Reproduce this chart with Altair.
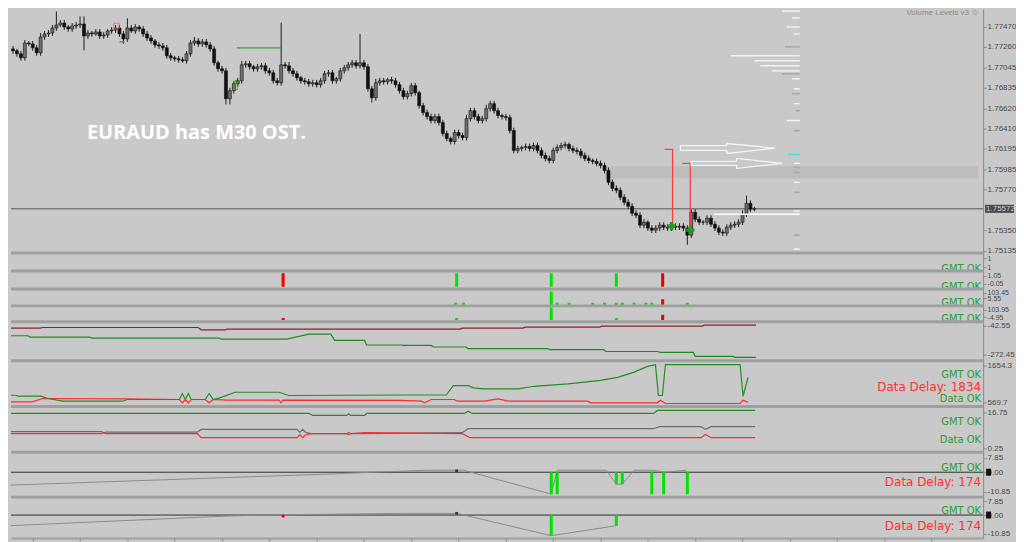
import altair as alt
import pandas as pd

BG = "#c9c9c9"
SEP = "#9f9f9f"
W = 976
BAR_DOMAIN = [1.75, 1.75 + W / 4.0]
GREEN_T = "#2e9e2e"
RED_T = "#ff3030"
BRIGHT_G = "#00e400"
BRIGHT_R = "#ee0000"

# ---------------- main price panel data ----------------
first_open = 1.77217
closes = [
    1.77237, 1.77217, 1.77186, 1.77144, 1.77299, 1.77289, 1.77248, 1.77196, 1.77362, 1.77393,
    1.77403, 1.77455, 1.77486, 1.77507, 1.77465, 1.77445, 1.77476, 1.77486, 1.77496, 1.77372,
    1.77403, 1.77393, 1.77414, 1.77372, 1.77382, 1.77424, 1.77434, 1.77455, 1.77393, 1.77341,
    1.77455, 1.77424, 1.77465, 1.77445, 1.77393, 1.77351, 1.77320, 1.77279, 1.77268, 1.77248,
    1.77165, 1.77144, 1.77134, 1.77123, 1.77113, 1.77186, 1.77299, 1.77320, 1.77289, 1.77310,
    1.77279, 1.77237, 1.77092, 1.77030, 1.77009, 1.76719, 1.76802, 1.76874, 1.76905, 1.77071,
    1.77082, 1.77051, 1.77030, 1.77051, 1.77061, 1.77009, 1.76988, 1.76905, 1.76885, 1.77071,
    1.77061, 1.77009, 1.76978, 1.76937, 1.76905, 1.76895, 1.76874, 1.76885, 1.76864, 1.76905,
    1.76978, 1.76988, 1.76905, 1.76926, 1.77009, 1.77040, 1.77071, 1.77092, 1.77061, 1.77092,
    1.77051, 1.76822, 1.76729, 1.76885, 1.76905, 1.76895, 1.76916, 1.76905, 1.76864, 1.76802,
    1.76740, 1.76771, 1.76854, 1.76781, 1.76646, 1.76574, 1.76532, 1.76491, 1.76532, 1.76470,
    1.76356, 1.76304, 1.76273, 1.76366, 1.76335, 1.76314, 1.76511, 1.76594, 1.76532, 1.76491,
    1.76511, 1.76615, 1.76667, 1.76594, 1.76543, 1.76532, 1.76522, 1.76387, 1.76180, 1.76200,
    1.76211, 1.76221, 1.76200, 1.76231, 1.76180, 1.76128, 1.76097, 1.76076, 1.76180, 1.76211,
    1.76231, 1.76242, 1.76200, 1.76180, 1.76169, 1.76128, 1.76097, 1.76076, 1.76065, 1.76045,
    1.76024, 1.75972, 1.75848, 1.75785, 1.75765, 1.75692, 1.75640, 1.75599, 1.75526, 1.75505,
    1.75402, 1.75433, 1.75371, 1.75350, 1.75371, 1.75402, 1.75381, 1.75371, 1.75391, 1.75381,
    1.75391, 1.75371, 1.75298, 1.75537, 1.75464, 1.75433, 1.75433, 1.75474, 1.75412, 1.75371,
    1.75329, 1.75319, 1.75381, 1.75402, 1.75412, 1.75433, 1.75516, 1.75630, 1.75568, 1.75572,
]
wick_up = [
    4, 3, 2, 3, 3, 2, 3, 3, 4, 3,
    3, 3, 14, 3, 3, 2, 3, 3, 8, 8,
    3, 2, 3, 3, 3, 2, 3, 3, 3, 3,
    10, 3, 3, 2, 3, 3, 3, 2, 3, 3,
    3, 3, 2, 3, 3, 3, 3, 4, 3, 3,
    3, 3, 3, 2, 3, 3, 3, 3, 3, 4,
    3, 3, 2, 3, 3, 3, 3, 3, 3, 44,
    3, 4, 3, 3, 2, 3, 3, 3, 3, 3,
    3, 3, 3, 2, 3, 3, 3, 3, 3, 30,
    3, 3, 3, 4, 3, 3, 2, 3, 3, 3,
    3, 3, 3, 3, 2, 3, 3, 3, 3, 3,
    3, 3, 2, 3, 3, 3, 4, 3, 3, 3,
    3, 4, 3, 3, 3, 2, 3, 3, 3, 3,
    2, 3, 3, 3, 3, 3, 3, 3, 3, 3,
    3, 3, 2, 3, 3, 3, 3, 3, 2, 3,
    3, 3, 3, 3, 3, 3, 3, 3, 3, 3,
    3, 3, 2, 3, 3, 3, 3, 3, 3, 3,
    3, 3, 3, 3, 3, 3, 2, 3, 3, 3,
    3, 3, 3, 3, 3, 3, 4, 8, 3, 2,
]
wick_dn = [
    18, 3, 3, 3, 3, 2, 3, 3, 3, 3,
    3, 3, 3, 2, 3, 3, 3, 3, 3, 15,
    3, 3, 2, 3, 3, 3, 3, 3, 3, 5,
    3, 2, 3, 3, 3, 3, 3, 3, 3, 3,
    3, 3, 3, 3, 2, 3, 3, 3, 3, 3,
    3, 3, 3, 3, 3, 6, 6, 3, 3, 3,
    3, 3, 3, 3, 3, 3, 3, 3, 3, 3,
    3, 3, 3, 3, 3, 3, 3, 3, 3, 3,
    3, 3, 3, 3, 3, 3, 3, 3, 3, 3,
    3, 3, 5, 3, 3, 3, 3, 3, 3, 3,
    3, 3, 3, 3, 3, 3, 3, 3, 3, 3,
    3, 3, 3, 3, 3, 3, 3, 3, 3, 3,
    3, 3, 3, 3, 3, 3, 3, 3, 3, 3,
    3, 3, 3, 3, 3, 3, 3, 3, 3, 3,
    3, 3, 3, 3, 3, 3, 3, 3, 3, 3,
    3, 3, 3, 3, 3, 3, 3, 3, 3, 3,
    3, 3, 3, 3, 3, 3, 3, 3, 3, 3,
    3, 3, 10, 3, 3, 3, 3, 3, 3, 3,
    3, 3, 3, 3, 3, 3, 3, 3, 3, 2,
]
PIP = 0.0001
main_domain = [1.75111, 1.77652]
main_ticks = [1.77470, 1.77260, 1.77045, 1.76835, 1.76620, 1.76410, 1.76195,
              1.75985, 1.75770, 1.75350, 1.75135]
last_price = 1.75572
band_bars = [151.0, BAR_DOMAIN[1]]
band_prices = [1.76014, 1.75889]

green_seg_x1 = [57.75, 28.0]
green_seg_x2 = [69.0, 29.25]
green_seg_p = [1.77248, 1.77310]

red_path_id = [1, 1, 1, 2, 2, 2]
red_path_bar = [166.25, 168.25, 168.25, 170.75, 172.75, 172.75]
red_path_p = [1.76190, 1.76190, 1.75381, 1.76045, 1.76045, 1.75350]

arrow_id = [1] * 8 + [2] * 8
arrow_bar = [170.25, 182, 182, 194.25, 182, 182, 170.25, 170.25,
             173, 184.5, 184.5, 196, 184.5, 184.5, 173, 173]
arrow_p = [1.76231, 1.76231, 1.76252, 1.76205, 1.76148, 1.76180, 1.76180, 1.76231,
           1.76065, 1.76065, 1.76097, 1.76045, 1.75993, 1.76024, 1.76024, 1.76065]

white_line_bars = [178.75, 200.5]
white_line_p = 1.75516

vol_p = [1.77631, 1.77559, 1.77465, 1.77393, 1.77258, 1.77165, 1.77113, 1.77061, 1.77009,
         1.76978, 1.76926, 1.76822, 1.76771, 1.76667, 1.76594, 1.76491, 1.76387, 1.76138,
         1.76045, 1.76003, 1.75951, 1.75848, 1.75744, 1.75547, 1.75298, 1.75153]
vol_left = [196, 198.5, 197.25, 199, 196.75, 183, 189, 190.5, 193.5, 196, 198.5, 199, 198.5,
            199, 199.5, 197.25, 199, 197.5, 199, 199, 199, 199, 199, 199, 199, 199]
vol_kind = ["w", "w", "w", "w", "g", "w", "w", "w", "w", "g", "w", "w", "g", "w", "g",
            "w", "g", "c", "w", "g", "g", "w", "g", "w", "g", "w"]
vol_right = 200.5
vol_colors = {"w": "#f2f2f2", "g": "#a8a8a8", "c": "#3fe0f0"}

cross_bar = [168.0, 172.75]
cross_p = [1.75391, 1.75350]
uparrow_bar = [57.5]
uparrow_p = [1.76854]
redbox_bar = [27.25]
redbox_p = [1.77476]
title_bar = [19.75]
title_p = [1.76356]
title_text = ["EURAUD has M30 OST."]

# ---------------- sub-panel data ----------------
p2_bar = [69.5, 113.5, 137.5, 154, 165.75]
p2_hi = [1, 1, 1, 1, 1]
p2_col = ["r", "g", "g", "g", "r"]

p3_bar = [113.25, 115.25, 137.5, 139, 142, 148, 151, 154, 155.5, 158.5, 161.5, 163, 165.75, 172]
p3_hi = [0.17, 0.17, 1.0, 0.17, 0.17, 0.17, 0.17, 0.17, 0.17, 0.17, 0.17, 0.17, 0.43, 0.17]
p3_col = ["g"] * 12 + ["r", "g"]

p4_bar = [69.5, 113.5, 137.5, 154, 165.75]
p4_hi = [0.17, 0.17, 1.0, 0.17, 0.43]
p4_col = ["r", "g", "g", "g", "r"]

p5_red_bar = [0, 9, 9.75, 48.75, 49.5, 55.5, 56, 114.5, 115, 130.25, 130.75, 149.5, 150,
              175.25, 175.75, 188.75]
p5_red_val = [-60.8, -60.8, -56, -56, -74.3, -74.3, -68.7, -68.7, -60.8, -60.8, -52.9, -52.9,
              -44.9, -44.9, -37, -37]
p5_grn_bar = [0, 6, 6.5, 21.5, 22, 54, 54.5, 71, 76.5, 82, 83, 90.5, 91, 99.75, 100, 107.25,
              107.75, 116, 116.5, 136.5, 137, 150.5, 151, 164, 164.75, 173, 173.5, 183, 183.5,
              188.75]
p5_grn_val = [-121.9, -121.9, -132.2, -132.2, -140.1, -140.1, -148, -148, -108.4, -108.4,
              -159.1, -159.1, -195.6, -195.6, -198.8, -198.8, -211.5, -211.5, -224.9, -224.9,
              -232.9, -232.9, -247.1, -247.1, -254.3, -254.3, -286, -286, -293.9, -293.9]

p6_grn_bar = [0, 3, 3.5, 9.25, 11, 14.75, 29.75, 31, 44, 44.75, 45.5, 46.25, 47, 50.5, 51.5,
              52.5, 54, 58, 69, 71.5, 99.75, 111, 112.75, 116.5, 117.75, 120.5, 129, 133,
              141.5, 149.75, 154, 158, 161.5, 163.5, 164.25, 165.25, 166, 184.75, 185.5, 186.75]
p6_grn_val = [783.8, 783.8, 754.5, 754.5, 687, 608, 608, 657.8, 657.8, 833.6, 657.8, 833.6,
              657.8, 657.8, 833.6, 657.8, 700, 871.7, 871.7, 775, 790, 790, 1068, 1068, 1000,
              971, 971, 1047, 1118, 1223, 1311, 1458, 1634, 1684, 775, 775, 1684, 1684, 754,
              1311]
p6_red_bar = [0, 7, 9.75, 30, 44, 44.75, 45.5, 46.25, 47, 50.5, 51.5, 52.5, 56, 69, 69.5, 70,
              99.75, 104.75, 105.5, 107.25, 113, 113.75, 120.5, 124, 126.5, 146.5, 147.25, 164,
              164.75, 166, 184.75, 185.5, 186.75]
p6_red_val = [590, 590, 687, 678, 657.8, 561, 657.8, 561, 657.8, 657.8, 561, 657.8, 640, 640,
              561, 640, 630, 608, 561, 657.8, 657.8, 608, 608, 678, 608, 608, 561, 561, 637,
              540, 540, 637, 578]

p7_red_bar = [0, 24.5, 25.5, 48.5, 49.5, 73.5, 74.25, 75, 75.75, 77, 86, 86.5, 87, 90.5, 115,
              117, 175, 176, 177.5, 188.5]
p7_red_val = [7.91, 7.91, 6.99, 6.99, 5.16, 5.16, 6.5, 5.16, 6.5, 6.99, 6.99, 6.6, 6.99, 7.45,
              7.0, 5.16, 5.16, 6.67, 5.16, 5.16]
p7_gray_bar = [0, 24.5, 25.5, 48.5, 49.5, 73.5, 74.25, 75, 75.75, 77, 86, 86.5, 87, 90.5, 115,
               116.5, 163, 164.5, 175, 176, 177.5, 188.5]
p7_gray_val = [6.99, 6.99, 7.7, 7.7, 8.96, 8.96, 7.6, 8.96, 7.6, 6.99, 6.99, 7.6, 6.99, 6.99,
               7.45, 9.28, 9.28, 10.2, 10.2, 8.96, 10.2, 10.2]
p7_grn_bar = [0, 76.5, 77.5, 86, 86.5, 87, 90.5, 91, 115.5, 116.5, 117.5, 163, 164, 188.5]
p7_grn_val = [16.29, 16.29, 15.38, 15.38, 16.1, 15.38, 15.38, 16.29, 16.29, 17.3, 16.29, 16.29,
              17.67, 17.67]

p8_gray_bar = [0, 82, 92, 106, 115.25, 137.5, 139, 151.5, 154, 155.5, 158.5, 163, 166.5, 171.75]
p8_gray_val = [-7.15, -0.94, 0, 1.1, 1.1, -12.1, 1.1, 1.1, -6.6, -6.6, 1.1, 1.1, 0, 1.1]
p8_hist_bar = [137.5, 139, 154, 155.5, 163, 166, 172]
p8_hist_val = [-12.1, -12.1, -6.6, -6.6, -12.1, -12.1, -12.1]

p9_gray_bar = [0, 57, 75, 100, 113.5, 137.5, 154]
p9_gray_val = [-6.1, -0.4, 0.3, 0.97, 0.97, -11.8, -6.1]
p9_hist_bar = [137.5, 154]
p9_hist_val = [-11.8, -6.1]

x_tick_bars = list(range(6, 246, 12))

# ---------------- helpers ----------------
X = alt.Scale(domain=BAR_DOMAIN, nice=False, zero=False)
COLS = {"r": BRIGHT_R, "g": BRIGHT_G}


def label_expr(vals, labs):
    expr = f"'{labs[-1]}'"
    for v, l in reversed(list(zip(vals[:-1], labs[:-1]))):
        expr = f"datum.value == {v} ? '{l}' : " + expr
    return expr


class Ctx:
    def __init__(self, sc, yax, xax=None):
        self.sc, self.yax, self.xax = sc, yax, xax

    def x(self, f):
        return alt.X(f"{f}:Q", scale=X, axis=self.xax)

    def y(self, f):
        return alt.Y(f"{f}:Q", scale=self.sc, axis=self.yax)


def separator():
    return alt.Chart(pd.DataFrame({"k": [0]})).mark_rule(color=SEP, strokeWidth=3).encode(
        x=alt.value(0), x2=alt.value(W), y=alt.value(0))


def status(text, ypx, color, size=10):
    return lambda c: alt.Chart(pd.DataFrame({"k": [0]})).mark_text(
        text=text, align="right", baseline="middle", font="DejaVu Sans", fontSize=size,
        color=color, clip=True).encode(x=alt.value(W - 2), y=alt.value(ypx))


def bars(bx, hi, cols, size=3):
    def f(c):
        df = pd.DataFrame({"bar": bx, "lo": [0.0] * len(bx), "hi": hi,
                           "c": [COLS.get(k, k) for k in cols]})
        return alt.Chart(df).mark_bar(size=size, clip=True).encode(
            x=c.x("bar"), y=c.y("lo"), y2=alt.Y2("hi"), color=alt.Color("c:N", scale=None))
    return f


def line(bx, vals, color, width=1.2):
    def f(c):
        df = pd.DataFrame({"bar": bx, "v": vals, "k": list(range(len(bx)))})
        return alt.Chart(df).mark_line(color=color, strokeWidth=width, clip=True).encode(
            x=c.x("bar"), y=c.y("v"), order="k:Q")
    return f


def dots(bx, vals, color, size=8):
    def f(c):
        df = pd.DataFrame({"bar": bx, "v": vals})
        return alt.Chart(df).mark_square(color=color, size=size, opacity=1, clip=True).encode(
            x=c.x("bar"), y=c.y("v"))
    return f


def zero_rule(c):
    return alt.Chart(pd.DataFrame({"v": [0.0]})).mark_rule(
        color="#303030", strokeWidth=1).encode(y=c.y("v"))


def zero_box(ypx):
    return lambda c: alt.Chart(pd.DataFrame({"k": [0]})).mark_rect(color="#111111").encode(
        x=alt.value(W + 3), x2=alt.value(W + 8), y=alt.value(ypx - 3.5),
        y2=alt.value(ypx + 3.5))


def panel(h, dom, vals, labs, layers, xaxis=None, lsize=8):
    sc = alt.Scale(domain=dom, nice=False, zero=False)
    yax = alt.Axis(orient="right", values=vals, labelExpr=label_expr(vals, labs),
                   title=None, labelOverlap=False, grid=False, labelFontSize=lsize)
    c = Ctx(sc, yax, xaxis)
    frame_df = pd.DataFrame({"bar": BAR_DOMAIN, "v": [dom[0], dom[1]]})
    frame = alt.Chart(frame_df).mark_point(opacity=0).encode(x=c.x("bar"), y=c.y("v"))
    built = [frame, separator()] + [f(c) for f in layers]
    return alt.layer(*built).properties(width=W, height=h)


# ---------------- main panel ----------------
YM = alt.Scale(domain=main_domain, nice=False, zero=False)
ax_main = alt.Axis(orient="right", values=main_ticks, format=".5f", title=None,
                   labelOverlap=False, grid=False)
M = Ctx(YM, ax_main, None)

opens = [first_open] + closes[:-1]
candles = pd.DataFrame({
    "bar": list(range(len(closes))),
    "open": opens,
    "close": closes,
    "high": [max(o, c) + u * PIP for o, c, u in zip(opens, closes, wick_up)],
    "low": [min(o, c) - d * PIP for o, c, d in zip(opens, closes, wick_dn)],
    "col": ["#6f6f6f" if c >= o else "#101010" for o, c in zip(opens, closes)],
})

m_band = alt.Chart(pd.DataFrame({"x1": [band_bars[0]], "x2": [band_bars[1]],
                                 "p1": [band_prices[0]], "p2": [band_prices[1]]})
                   ).mark_rect(color="#bdbdbd", clip=True).encode(
    x=M.x("x1"), x2=alt.X2("x2"), y=M.y("p1"), y2=alt.Y2("p2"))
m_price = alt.Chart(pd.DataFrame({"p": [last_price]})).mark_rule(
    color="#555555", strokeWidth=1).encode(y=M.y("p"))
m_wicks = alt.Chart(candles).mark_rule(color="#1e1e1e", strokeWidth=1, clip=True).encode(
    x=M.x("bar"), y=M.y("low"), y2=alt.Y2("high"))
m_bodies = alt.Chart(candles).mark_bar(size=3, stroke="#111111", strokeWidth=0.6,
                                       clip=True).encode(
    x=M.x("bar"), y=M.y("open"), y2=alt.Y2("close"), color=alt.Color("col:N", scale=None))
m_green = alt.Chart(pd.DataFrame({"x1": green_seg_x1, "x2": green_seg_x2, "p": green_seg_p})
                    ).mark_rule(color="#3d9a3d", strokeWidth=1.2).encode(
    x=M.x("x1"), x2=alt.X2("x2"), y=M.y("p"))
m_redpath = alt.Chart(pd.DataFrame({"id": red_path_id, "bar": red_path_bar, "p": red_path_p,
                                    "k": list(range(len(red_path_id)))})
                      ).mark_line(color="#ff3b3b", strokeWidth=1.2).encode(
    x=M.x("bar"), y=M.y("p"), detail="id:N", order="k:Q")
m_arrows = alt.Chart(pd.DataFrame({"id": arrow_id, "bar": arrow_bar, "p": arrow_p,
                                   "k": list(range(len(arrow_id)))})
                     ).mark_line(color="#f4f4f4", strokeWidth=1.3).encode(
    x=M.x("bar"), y=M.y("p"), detail="id:N", order="k:Q")
m_white = alt.Chart(pd.DataFrame({"x1": [white_line_bars[0]], "x2": [white_line_bars[1]],
                                  "p": [white_line_p]})
                    ).mark_rule(color="#ffffff", strokeWidth=1.5).encode(
    x=M.x("x1"), x2=alt.X2("x2"), y=M.y("p"))
m_vol = alt.Chart(pd.DataFrame({"x1": vol_left, "x2": [vol_right] * len(vol_left), "p": vol_p,
                                "c": [vol_colors[k] for k in vol_kind]})
                  ).mark_rule(strokeWidth=1.5).encode(
    x=M.x("x1"), x2=alt.X2("x2"), y=M.y("p"), color=alt.Color("c:N", scale=None))
m_cross = alt.Chart(pd.DataFrame({"bar": cross_bar, "p": cross_p})).mark_point(
    shape="cross", filled=True, size=70, color="#1e9a1e", opacity=1).encode(
    x=M.x("bar"), y=M.y("p"))
m_up = alt.Chart(pd.DataFrame({"bar": uparrow_bar, "p": uparrow_p})).mark_text(
    text="⇧", fontSize=14, color="#2f9a2f", font="DejaVu Sans").encode(
    x=M.x("bar"), y=M.y("p"))
m_redbox = alt.Chart(pd.DataFrame({"bar": redbox_bar, "p": redbox_p})).mark_point(
    shape="square", filled=False, size=30, color="#e05a5a", strokeWidth=1).encode(
    x=M.x("bar"), y=M.y("p"))
m_title = alt.Chart(pd.DataFrame({"bar": title_bar, "p": title_p, "t": title_text})).mark_text(
    align="left", baseline="middle", fontSize=20, fontWeight="bold", color="#ffffff",
    font="Open Sans").encode(x=M.x("bar"), y=M.y("p"), text="t:N")
m_vl = alt.Chart(pd.DataFrame({"k": [0]})).mark_text(
    text="Volume Levels v3 ☺", align="right", baseline="top", fontSize=8, color="#8a8a8a",
    font="Liberation Sans").encode(x=alt.value(W - 4), y=alt.value(0))
m_box = alt.Chart(pd.DataFrame({"p1": [last_price - 4.2 * PIP], "p2": [last_price + 4.2 * PIP]})
                  ).mark_rect(color="#4a4a4a").encode(
    x=alt.value(W + 2), x2=alt.value(W + 31), y=M.y("p1"), y2=alt.Y2("p2"))
m_boxt = alt.Chart(pd.DataFrame({"p": [last_price], "t": [f"{last_price:.5f}"]})).mark_text(
    align="left", baseline="middle", fontSize=8, color="#d0d0d0",
    font="Liberation Sans").encode(x=alt.value(W + 3), y=M.y("p"), text="t:N")

main = alt.layer(m_band, m_price, m_wicks, m_bodies, m_green, m_redpath, m_arrows,
                 m_white, m_vol, m_cross, m_up, m_redbox, m_title, m_vl, m_box, m_boxt
                 ).properties(width=W, height=245)

# ---------------- sub panels ----------------
p1 = panel(18, [0, 1], [0.72, 0.22], ["1", "1"],
           [status("GMT OK", 16, GREEN_T)], lsize=7)
p2 = panel(18, [-0.17, 1.17], [0.8, 0.2], ["1.05", "-0.05"],
           [bars(p2_bar, p2_hi, p2_col), status("GMT OK", 16, GREEN_T)], lsize=7)
p3 = panel(17, [-0.075, 1.2], [0.92, 0.5], ["103.45", "5.55"],
           [bars(p3_bar, p3_hi, p3_col), status("GMT OK", 14, GREEN_T)], lsize=7)
p4 = panel(16, [-0.14, 1.16], [0.87, 0.25], ["103.95", "-4.95"],
           [bars(p4_bar, p4_hi, p4_col), status("GMT OK", 13, GREEN_T)], lsize=7)
p5 = panel(39, [-320.1, -10.83], [-42.55, -272.45], ["-42.55", "-272.45"],
           [line(p5_red_bar, p5_red_val, "#8e2020"),
            line(p5_grn_bar, p5_grn_val, "#1f8a1f")])
p6 = panel(46, [452.6, 1800.9], [1654.3, 569.7], ["1654.3", "569.7"],
           [line(p6_red_bar, p6_red_val, "#ff2a2a"),
            line(p6_grn_bar, p6_grn_val, "#228f22"),
            status("GMT OK", 14, GREEN_T),
            status("Data Delay: 1834", 26, RED_T, 12),
            status("Data OK", 38, GREEN_T)])
p7 = panel(46, [-1.57, 19.5], [16.75, 0.25], ["16.75", "0.25"],
           [line(p7_gray_bar, p7_gray_val, "#6e6e6e"),
            line(p7_red_bar, p7_red_val, "#ff2a2a"),
            line(p7_grn_bar, p7_grn_val, "#228f22"),
            status("GMT OK", 16, GREEN_T),
            status("Data OK", 34, GREEN_T)])
p8 = panel(45, [-13.75, 11], [7.85, 0, -10.85], ["7.85", "0.00", "-10.85"],
           [zero_rule,
            line(p8_gray_bar, p8_gray_val, "#8a8a8a", 1),
            bars(p8_hist_bar, p8_hist_val, ["g"] * len(p8_hist_bar)),
            dots([113.5], [0.7], "#0a5a0a"),
            zero_box(20),
            status("GMT OK", 16, GREEN_T),
            status("Data Delay: 174", 30, RED_T, 12)])
x_bottom = alt.Axis(values=x_tick_bars, labels=False, ticks=True, tickSize=3,
                    domain=True, domainColor="#9e9e9e", domainWidth=2, tickColor="#7a7a7a",
                    title=None, grid=False, orient="bottom")
p9 = panel(41, [-13.11, 10.26], [7.85, 0, -10.85], ["7.85", "0.00", "-10.85"],
           [zero_rule,
            line(p9_gray_bar, p9_gray_val, "#8a8a8a", 1),
            bars(p9_hist_bar, p9_hist_val, ["g"] * len(p9_hist_bar)),
            dots([113.5], [0.97], "#0a5a0a"),
            dots([69.5], [-0.6], "#ee0000"),
            zero_box(18),
            status("GMT OK", 14, GREEN_T),
            status("Data Delay: 174", 29, RED_T, 12)],
           xaxis=x_bottom)

chart = alt.vconcat(main, p1, p2, p3, p4, p5, p6, p7, p8, p9, spacing=0, bounds="flush"
                    ).properties(background=BG, padding=0
                    ).configure_view(stroke=None
                    ).configure_axis(labelFont="Liberation Sans", labelFontSize=8,
                                     labelColor="#484848", domainColor="#8a8a8a",
                                     tickColor="#8a8a8a", tickSize=3, labelPadding=1,
                                     grid=False)

chart.save("out.html", embed_options={"renderer": "svg", "actions": False})
